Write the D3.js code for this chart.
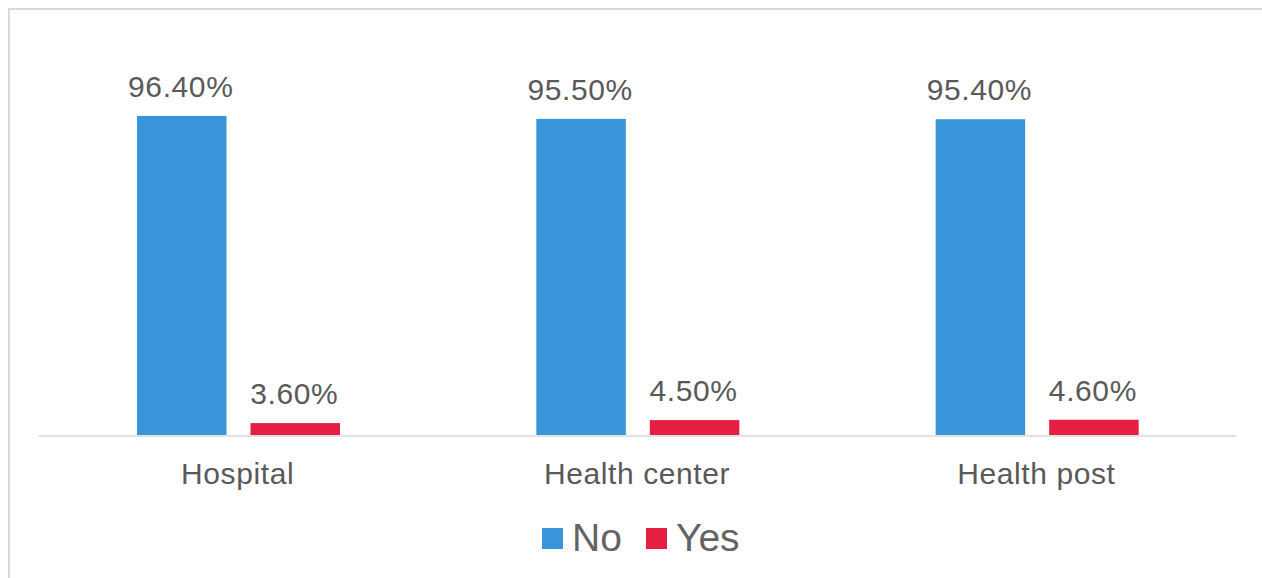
<!DOCTYPE html>
<html>
<head>
<meta charset="utf-8">
<script src="https://cdn.jsdelivr.net/npm/d3@7"></script>
<style>
  html, body { margin: 0; padding: 0; background: #fff; }
  svg { display: block; }
  text { font-family: "Liberation Sans", Arial, sans-serif; }
</style>
</head>
<body>
<svg id="chart" width="1262" height="578"></svg>
<script>
// Facility types and the share of each answer (in %)
const categories = ["Hospital", "Health center", "Health post"];
const seriesNames = ["No", "Yes"];
const noValues = [96.4, 95.5, 95.4];
const yesValues = [3.6, 4.5, 4.6];
const seriesColors = ["#3895d9", "#e51f41"];

const W = 1262, H = 578;
const svg = d3.select("#chart");

// outer frame (only top and left edges fall inside the view)
svg.append("rect")
  .attr("x", 9).attr("y", 9)
  .attr("width", W + 20).attr("height", H + 20)
  .attr("fill", "#fff")
  .attr("stroke", "#d9d9d9").attr("stroke-width", 2);

const plot = { left: 38, right: 1236, top: 104, bottom: 435 };

const x0 = d3.scaleBand()
  .domain(categories)
  .range([plot.left, plot.right]);

// the pair of bars sits in the middle half of each category slot
const x1 = d3.scaleBand()
  .domain(seriesNames)
  .range([99, 302])
  .paddingInner(0.2115)
  .paddingOuter(0);

const y = d3.scaleLinear()
  .domain([0, 100])
  .range([plot.bottom, plot.top]);

const rows = categories.map((c, i) => ({
  cat: c,
  vals: [
    { s: "No", v: noValues[i], color: seriesColors[0] },
    { s: "Yes", v: yesValues[i], color: seriesColors[1] }
  ]
}));

const groups = svg.append("g").selectAll("g")
  .data(rows).join("g")
  .attr("transform", d => `translate(${x0(d.cat)},0)`);

groups.selectAll("rect")
  .data(d => d.vals).join("rect")
  .attr("x", d => x1(d.s))
  .attr("width", x1.bandwidth())
  .attr("y", d => y(d.v))
  .attr("height", d => y(0) - y(d.v))
  .attr("fill", d => d.color);

groups.selectAll("text.val")
  .data(d => d.vals).join("text")
  .attr("class", "val")
  .attr("x", d => x1(d.s) + x1.bandwidth() / 2 - 1)
  .attr("y", d => y(d.v) - 19)
  .attr("text-anchor", "middle")
  .attr("font-size", 30)
  .attr("letter-spacing", 0.6)
  .attr("fill", "#595959")
  .text(d => d.v.toFixed(2) + "%");

// category axis
const xAxis = svg.append("g")
  .attr("transform", `translate(0,${plot.bottom + 0.5})`)
  .call(d3.axisBottom(x0).tickSize(0).tickPadding(0));
xAxis.select(".domain").attr("stroke", "#d9d9d9").attr("stroke-width", 1.5);
xAxis.selectAll(".tick text")
  .attr("font-family", "Liberation Sans, Arial, sans-serif")
  .attr("font-size", 30)
  .attr("letter-spacing", 0.6)
  .attr("fill", "#595959")
  .attr("dy", 0)
  .attr("y", 48);

// legend
const legendItems = [
  { name: seriesNames[0], color: seriesColors[0], x: 542 },
  { name: seriesNames[1], color: seriesColors[1], x: 646 }
];
const legend = svg.append("g").selectAll("g")
  .data(legendItems).join("g")
  .attr("transform", d => `translate(${d.x},528)`);
legend.append("rect")
  .attr("width", 21).attr("height", 21)
  .attr("fill", d => d.color);
legend.append("text")
  .attr("x", 30).attr("y", 22.5)
  .attr("font-size", 39)
  .attr("fill", "#636363")
  .text(d => d.name);
</script>
</body>
</html>
